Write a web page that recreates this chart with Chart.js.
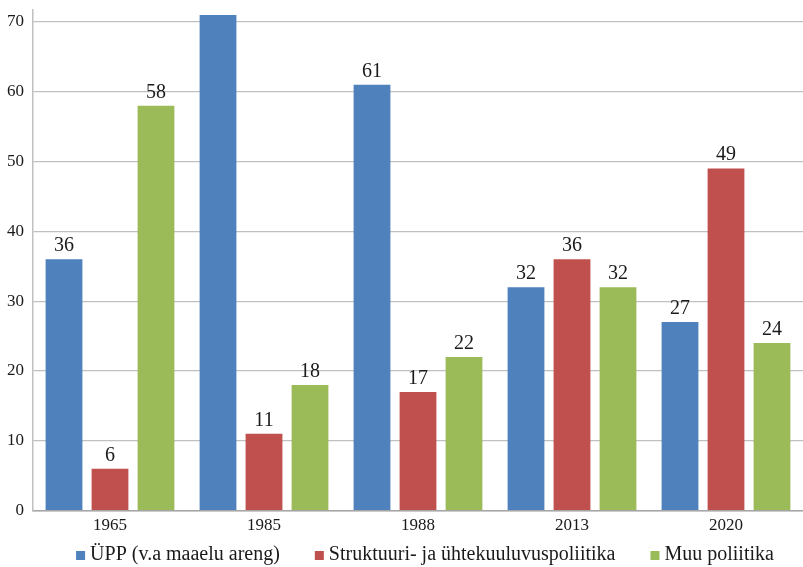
<!DOCTYPE html>
<html>
<head>
<meta charset="utf-8">
<script src="https://cdn.jsdelivr.net/npm/chart.js@4/dist/chart.umd.min.js"></script>
<style>
html,body{margin:0;padding:0;background:#fff;}
#wrap{width:803px;height:567px;position:relative;}
</style>
</head>
<body>
<div id="wrap"><canvas id="c" width="803" height="567"></canvas></div>
<script>
const categories = ["1965", "1985", "1988", "2013", "2020"];
const seriesNames = ["ÜPP (v.a maaelu areng)", "Struktuuri- ja ühtekuuluvuspoliitika", "Muu poliitika"];
const uppValues = [36, 71, 61, 32, 27];
const struktValues = [6, 11, 17, 36, 49];
const muuValues = [58, 18, 22, 32, 24];
const yTicks = [0, 10, 20, 30, 40, 50, 60, 70];

const colors = ["#4f81bd", "#c0504d", "#9bbb59"];
const FONT = "'Liberation Serif', 'DejaVu Serif', serif";
const TEXT = "#1a1a1a";

const labelPlugin = {
  id: 'valueLabels',
  afterDatasetsDraw(chart) {
    const ctx = chart.ctx;
    const area = chart.chartArea;
    ctx.save();
    ctx.beginPath();
    ctx.rect(area.left, area.top, area.right - area.left, area.bottom - area.top);
    ctx.clip();
    ctx.font = "20px " + FONT;
    ctx.fillStyle = TEXT;
    ctx.textAlign = "center";
    ctx.textBaseline = "alphabetic";
    chart.data.datasets.forEach((ds, i) => {
      const meta = chart.getDatasetMeta(i);
      meta.data.forEach((bar, j) => {
        const base = bar.y - 8;
        if (base - 15 < area.top) return;
        ctx.fillText(String(ds.data[j]), bar.x, base);
      });
    });
    ctx.restore();
  }
};

const legendPlugin = {
  id: 'bottomLegend',
  afterDraw(chart) {
    const ctx = chart.ctx;
    ctx.save();
    ctx.font = "20px " + FONT;
    ctx.textBaseline = "middle";
    ctx.textAlign = "left";
    const box = 9, gapText = 5, gapItem = 35;
    const widths = seriesNames.map(n => box + gapText + ctx.measureText(n).width);
    const total = widths.reduce((a, b) => a + b, 0) + gapItem * (widths.length - 1);
    let x = 425 - total / 2;
    const yc = 555;
    chart.data.datasets.forEach((ds, i) => {
      ctx.fillStyle = ds.backgroundColor;
      ctx.fillRect(x, yc - 4, box, box);
      ctx.fillStyle = TEXT;
      ctx.fillText(ds.label, x + box + gapText, yc);
      x += widths[i] + gapItem;
    });
    ctx.restore();
  }
};

new Chart(document.getElementById('c'), {
  type: 'bar',
  data: {
    labels: categories,
    datasets: [
      { label: seriesNames[0], data: uppValues, backgroundColor: colors[0] },
      { label: seriesNames[1], data: struktValues, backgroundColor: colors[1] },
      { label: seriesNames[2], data: muuValues, backgroundColor: colors[2] }
    ]
  },
  options: {
    responsive: false,
    animation: false,
    devicePixelRatio: 1,
    layout: { padding: { top: 10, right: 0, left: 0, bottom: 26 } },
    datasets: { bar: { categoryPercentage: 0.896, barPercentage: 0.80 } },
    scales: {
      x: {
        grid: { display: false, drawTicks: false },
        border: { color: '#a6a6a6', width: 1.5 },
        ticks: { color: TEXT, font: { family: FONT, size: 17 }, padding: 5 }
      },
      y: {
        min: 0,
        max: 71.7,
        afterBuildTicks(axis) { axis.ticks = yTicks.map(v => ({ value: v })); },
        afterFit(axis) { axis.width = 33; axis.paddingTop = 0; axis.paddingBottom = 0; },
        grid: { color: '#c0c0c0', lineWidth: 1.2, drawTicks: false },
        border: { color: '#c0c0c0', width: 1.5 },
        ticks: { color: TEXT, font: { family: FONT, size: 17 }, padding: 9 }
      }
    },
    plugins: {
      legend: { display: false },
      tooltip: { enabled: false }
    }
  },
  plugins: [labelPlugin, legendPlugin]
});
</script>
</body>
</html>
